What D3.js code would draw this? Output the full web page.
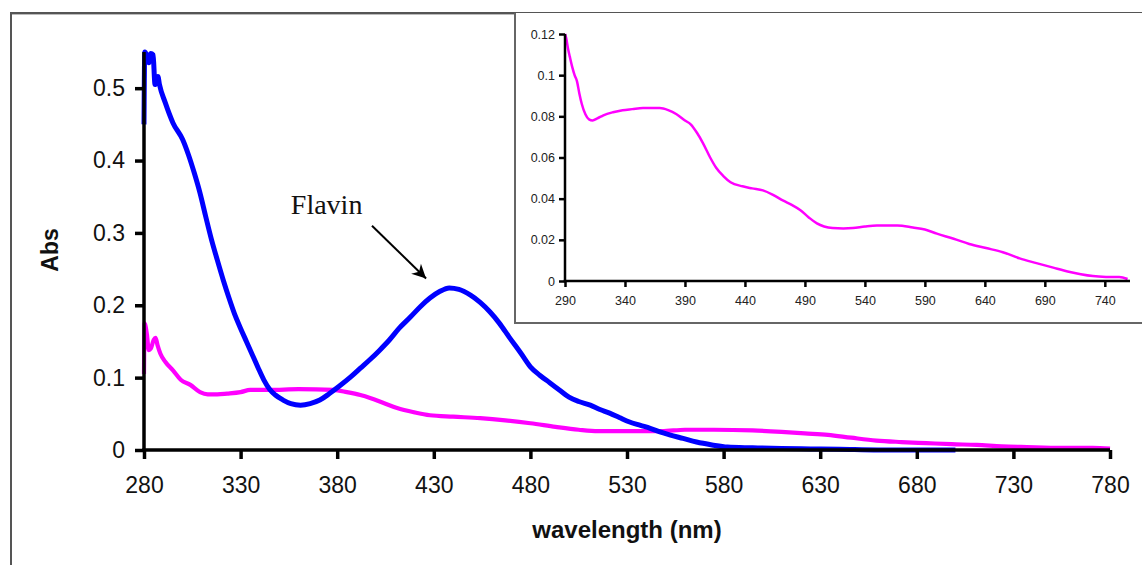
<!DOCTYPE html>
<html>
<head>
<meta charset="utf-8">
<script src="https://cdn.jsdelivr.net/npm/d3@7/dist/d3.min.js"></script>
<style>
  html, body { margin: 0; padding: 0; background: #fff; }
  svg { display: block; }
</style>
</head>
<body>
<svg id="chart" width="1142" height="565"></svg>
<script>
// Blue trace: wavelength (nm) and absorbance
const blueWavelength = [280, 280.4, 281.5, 282.5, 283.5, 284.7, 285.7, 286.5, 287.2, 288, 291, 295, 300, 303, 306, 309, 312, 315, 318, 321, 324, 327, 330, 333, 336, 339, 342, 345, 348, 352, 356, 361, 366, 371, 376, 381, 387, 392, 397, 402, 407, 412, 418, 423, 428, 433, 438, 443, 449, 454, 459, 464, 469, 475, 480, 485, 490, 495, 500, 505, 511, 516, 521, 526, 531, 537, 542, 547, 552, 559, 566, 574, 582, 595, 610, 625, 640, 660, 700];
const blueAbs = [0.45, 0.55, 0.545, 0.535, 0.548, 0.546, 0.505, 0.51, 0.516, 0.505, 0.48, 0.452, 0.429, 0.408, 0.383, 0.355, 0.322, 0.29, 0.262, 0.235, 0.21, 0.187, 0.168, 0.15, 0.132, 0.114, 0.097, 0.084, 0.076, 0.069, 0.064, 0.062, 0.064, 0.069, 0.078, 0.088, 0.101, 0.113, 0.125, 0.138, 0.152, 0.168, 0.184, 0.198, 0.21, 0.219, 0.224, 0.222, 0.214, 0.204, 0.191, 0.175, 0.156, 0.134, 0.115, 0.103, 0.093, 0.083, 0.073, 0.067, 0.062, 0.056, 0.051, 0.045, 0.039, 0.034, 0.03, 0.025, 0.021, 0.016, 0.011, 0.007, 0.004, 0.003, 0.002, 0.0015, 0.001, 0, 0];

// Magenta trace on the main axes
const magentaWavelength = [280, 280.3, 281.5, 282.5, 283.5, 285, 286, 287, 288.5, 291, 295, 299, 304, 309, 313, 318, 323, 330, 335, 345, 360, 378, 385, 392, 397, 404, 411, 420, 428, 440, 454, 467, 480, 493, 505, 515, 530, 548, 560, 575, 595, 610, 622, 634, 646, 659, 672, 685, 698, 711, 724, 737, 755, 771, 780];
const magentaAbs = [0.105, 0.175, 0.16, 0.138, 0.14, 0.152, 0.155, 0.145, 0.133, 0.122, 0.11, 0.097, 0.09, 0.08, 0.077, 0.077, 0.078, 0.08, 0.083, 0.083, 0.084, 0.083, 0.08, 0.076, 0.072, 0.065, 0.058, 0.052, 0.048, 0.046, 0.044, 0.041, 0.037, 0.032, 0.028, 0.026, 0.026, 0.026, 0.028, 0.028, 0.027, 0.025, 0.023, 0.021, 0.017, 0.013, 0.011, 0.0095, 0.008, 0.007, 0.005, 0.004, 0.003, 0.003, 0.002];

// Inset: magenta trace on an expanded scale
const insetWavelength = [290, 291, 292.5, 294, 296, 298, 300, 302, 304, 307, 310, 313, 317, 322, 330, 338, 346, 355, 362, 369, 376, 383, 390, 395, 400, 405, 411, 416, 422, 428, 438, 446, 455, 463, 472, 479, 486, 493, 500, 506, 513, 522, 530, 540, 550, 567, 580, 590, 600, 614, 627, 641, 655, 669, 683, 697, 711, 720, 730, 741, 752, 759];
const insetAbs = [0.12, 0.118, 0.113, 0.109, 0.104, 0.1, 0.097, 0.091, 0.086, 0.081, 0.0785, 0.078, 0.079, 0.0805, 0.082, 0.083, 0.0835, 0.084, 0.084, 0.084, 0.083, 0.081, 0.078, 0.076, 0.072, 0.067, 0.06, 0.055, 0.051, 0.048, 0.046, 0.045, 0.044, 0.042, 0.039, 0.037, 0.0345, 0.031, 0.028, 0.0265, 0.0257, 0.0255, 0.0257, 0.0265, 0.027, 0.027, 0.026, 0.025, 0.023, 0.0205, 0.018, 0.016, 0.014, 0.011, 0.0087, 0.0065, 0.0044, 0.0033, 0.0024, 0.002, 0.0019, 0.001];

// Tick values
const mainXTicks = [280, 330, 380, 430, 480, 530, 580, 630, 680, 730, 780];
const mainYTicks = [0, 0.1, 0.2, 0.3, 0.4, 0.5];
const insetXTicks = [290, 340, 390, 440, 490, 540, 590, 640, 690, 740];
const insetYTicks = [0, 0.02, 0.04, 0.06, 0.08, 0.1, 0.12];

// Annotation (data coordinates)
const flavinLabel = { text: "Flavin", x: 356, y: 0.326 };
const flavinArrow = { x1: 398, y1: 0.31, x2: 426, y2: 0.237 };

const svg = d3.select("#chart");
const sans = "'Liberation Sans', Arial, Helvetica, sans-serif";
const serif = "'Liberation Serif', 'Times New Roman', Times, serif";

// Outer frame
svg.append("line").attr("x1", 11).attr("y1", 13).attr("x2", 1142).attr("y2", 13)
  .attr("stroke", "#555").attr("stroke-width", 2);
svg.append("line").attr("x1", 11).attr("y1", 14.5).attr("x2", 1142).attr("y2", 14.5)
  .attr("stroke", "#bbb").attr("stroke-width", 1);
svg.append("line").attr("x1", 11).attr("y1", 12).attr("x2", 11).attr("y2", 565)
  .attr("stroke", "#555").attr("stroke-width", 2);

// ---------- Main chart ----------
const x = d3.scaleLinear().domain([280, 780]).range([144, 1110]);
const y = d3.scaleLinear().domain([0, 0.55]).range([450, 52]);

const mainLine = d3.line().x(d => x(d[0])).y(d => y(d[1])).curve(d3.curveMonotoneX);

const magentaPts = d3.zip(magentaWavelength, magentaAbs);
const bluePts = d3.zip(blueWavelength, blueAbs);

svg.append("path").datum(magentaPts).attr("d", mainLine)
  .attr("fill", "none").attr("stroke", "#ff00ff").attr("stroke-width", 4.2)
  .attr("stroke-linejoin", "round");
svg.append("path").datum(bluePts).attr("d", mainLine)
  .attr("fill", "none").attr("stroke", "#0000ff").attr("stroke-width", 5)
  .attr("stroke-linejoin", "round");

const xAxis = d3.axisBottom(x).tickValues(mainXTicks).tickFormat(d3.format("d"))
  .tickSizeInner(9).tickSizeOuter(0).tickPadding(18);
const yAxis = d3.axisLeft(y).tickValues(mainYTicks).tickFormat(d => d === 0 ? "0" : d3.format(".1f")(d))
  .tickSizeInner(9).tickSizeOuter(0).tickPadding(10);

function styleAxis(g, width, fontSize, color) {
  g.select(".domain").attr("stroke", "#000").attr("stroke-width", width);
  g.selectAll(".tick line").attr("stroke", "#000").attr("stroke-width", width);
  g.selectAll(".tick text").attr("fill", color)
    .style("font-family", sans).style("font-size", fontSize + "px");
}

const gx = svg.append("g").attr("transform", "translate(0,450)").call(xAxis);
styleAxis(gx, 3.5, 23, "#111");
const gy = svg.append("g").attr("transform", "translate(144,0)").call(yAxis);
styleAxis(gy, 3.5, 23, "#111");
// extend the axis lines slightly so the corner is closed
gy.select(".domain").attr("d", `M0,${y(0.55)}V${y(0) + 1.75}`);
gx.select(".domain").attr("d", `M${x(280) - 1.75},0H${x(780)}`);

svg.append("text").attr("x", 627).attr("y", 538)
  .attr("text-anchor", "middle").attr("fill", "#111")
  .style("font-family", sans).style("font-size", "24px").style("font-weight", "bold")
  .text("wavelength (nm)");
svg.append("text").attr("transform", "translate(58,250) rotate(-90)")
  .attr("text-anchor", "middle").attr("fill", "#111")
  .style("font-family", sans).style("font-size", "23px").style("font-weight", "bold")
  .text("Abs");

// Flavin annotation
svg.append("defs").append("marker")
  .attr("id", "arrowhead").attr("viewBox", "0 0 10 10")
  .attr("refX", 10).attr("refY", 5)
  .attr("markerWidth", 8.5).attr("markerHeight", 7)
  .attr("markerUnits", "strokeWidth").attr("orient", "auto")
  .append("path").attr("d", "M0,0 L10,5 L0,10 L3,5 Z").attr("fill", "#000");

svg.append("line")
  .attr("x1", x(flavinArrow.x1)).attr("y1", y(flavinArrow.y1))
  .attr("x2", x(flavinArrow.x2)).attr("y2", y(flavinArrow.y2))
  .attr("stroke", "#000").attr("stroke-width", 2)
  .attr("marker-end", "url(#arrowhead)");

svg.append("text").attr("x", x(flavinLabel.x)).attr("y", y(flavinLabel.y))
  .attr("fill", "#111")
  .style("font-family", serif).style("font-size", "28px")
  .text(flavinLabel.text);

// ---------- Inset ----------
const inset = svg.append("g");
inset.append("rect").attr("x", 515).attr("y", 13).attr("width", 640).attr("height", 310)
  .attr("fill", "#fff");
inset.append("line").attr("x1", 515).attr("y1", 13).attr("x2", 515).attr("y2", 323)
  .attr("stroke", "#666").attr("stroke-width", 2);
inset.append("line").attr("x1", 514).attr("y1", 323).attr("x2", 1142).attr("y2", 323)
  .attr("stroke", "#666").attr("stroke-width", 2);

const ix = d3.scaleLinear().domain([290, 761]).range([565, 1130]);
const iy = d3.scaleLinear().domain([0, 0.12]).range([281, 34]);

const insetLine = d3.line().x(d => ix(d[0])).y(d => iy(d[1])).curve(d3.curveMonotoneX);
inset.append("path").datum(d3.zip(insetWavelength, insetAbs)).attr("d", insetLine)
  .attr("fill", "none").attr("stroke", "#ff00ff").attr("stroke-width", 2.5)
  .attr("stroke-linejoin", "round");

const ixAxis = d3.axisBottom(ix).tickValues(insetXTicks).tickFormat(d3.format("d"))
  .tickSizeInner(6).tickSizeOuter(0).tickPadding(9);
const iyAxis = d3.axisLeft(iy).tickValues(insetYTicks).tickFormat(d3.format("~g"))
  .tickSizeInner(6).tickSizeOuter(0).tickPadding(4);

const gix = inset.append("g").attr("transform", "translate(0,281)").call(ixAxis);
styleAxis(gix, 2.5, 12.5, "#222");
const giy = inset.append("g").attr("transform", "translate(565,0)").call(iyAxis);
styleAxis(giy, 2.5, 12.5, "#222");
giy.select(".domain").attr("d", `M0,${iy(0.12)}V${iy(0) + 1.25}`);
gix.select(".domain").attr("d", `M${ix(290) - 1.25},0H${ix(761)}`);
</script>
</body>
</html>
